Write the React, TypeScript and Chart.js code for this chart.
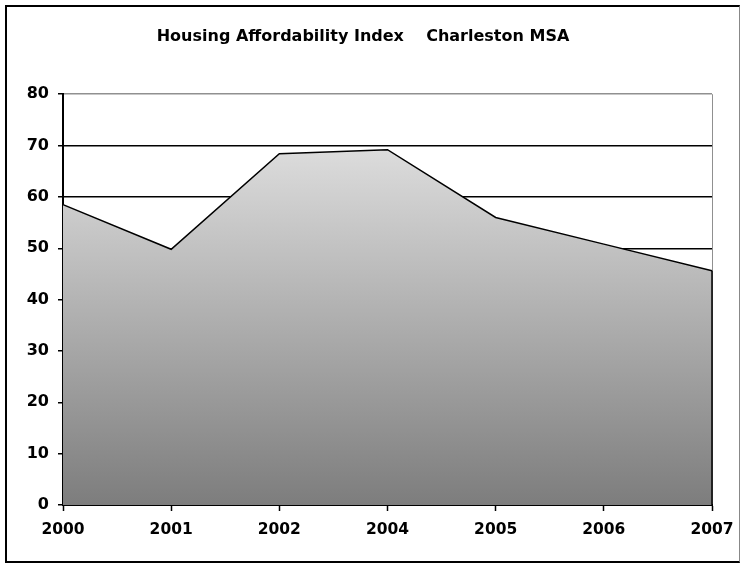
import React, { useEffect, useRef } from "react";
import { Chart, registerables } from "chart.js";

Chart.register(...registerables);

const titleText = "Housing Affordability Index    Charleston MSA";
const years = ["2000", "2001", "2002", "2004", "2005", "2006", "2007"];
const indexValues = [58.5, 49.8, 68.4, 69.2, 56.0, 50.8, 45.6];
const yMin = 0;
const yMax = 80;
const yStep = 10;

const FONT = "'DejaVu Sans', 'Liberation Sans', Arial, sans-serif";

const rightEdgePlugin = {
  id: "rightEdge",
  afterDatasetsDraw(chart: any) {
    const meta = chart.getDatasetMeta(0);
    const pts = meta.data;
    if (!pts || !pts.length) return;
    const last = pts[pts.length - 1];
    const { ctx, chartArea } = chart;
    ctx.save();
    ctx.strokeStyle = "#000";
    ctx.lineWidth = 1.5;
    ctx.beginPath();
    ctx.moveTo(last.x, last.y);
    ctx.lineTo(last.x, chartArea.bottom);
    ctx.stroke();
    ctx.restore();
  },
};

export default function App() {
  const ref = useRef<HTMLCanvasElement>(null);
  useEffect(() => {
    document.body.style.margin = "0";
    const canvas = ref.current!;
    const chart = new Chart(canvas, {
      type: "line",
      data: {
        labels: years,
        datasets: [
          {
            data: indexValues,
            borderColor: "#000",
            borderWidth: 1.5,
            pointRadius: 0,
            tension: 0,
            fill: "origin",
            backgroundColor: (c: any) => {
              const ch = c.chart;
              const area = ch.chartArea;
              if (!area) return "#bbbbbb";
              const ys = ch.scales.y;
              const top = ys.getPixelForValue(Math.max(...indexValues));
              const g = ch.ctx.createLinearGradient(0, top, 0, area.bottom);
              g.addColorStop(0, "#dcdcdc");
              g.addColorStop(1, "#7d7d7d");
              return g;
            },
          },
        ],
      },
      options: {
        responsive: false,
        animation: false,
        devicePixelRatio: 1,
        layout: { padding: { left: 14, right: 33, top: 27, bottom: 0 } },
        plugins: {
          legend: { display: false },
          tooltip: { enabled: false },
          title: {
            display: true,
            text: titleText,
            color: "#000",
            font: { family: FONT, size: 16, weight: "bold" },
            padding: { top: 0, bottom: 48 },
          },
        },
        scales: {
          x: {
            type: "category",
            offset: false,
            afterFit: (s: any) => {
              s.height = 58;
            },
            border: { display: true, color: "#000", width: 2 },
            grid: {
              display: true,
              drawOnChartArea: true,
              drawTicks: true,
              tickLength: 6,
              tickColor: "#000",
              tickWidth: 1.5,
              lineWidth: 1,
              color: (c: any) =>
                c.index === years.length - 1 ? "#909090" : "rgba(0,0,0,0)",
            },
            ticks: {
              color: "#000",
              font: { family: FONT, size: 15.5, weight: "bold" },
              padding: 10,
              maxRotation: 0,
              autoSkip: false,
            },
          },
          y: {
            min: yMin,
            max: yMax,
            afterFit: (s: any) => {
              s.width = 49;
            },
            border: { display: true, color: "#000", width: 2 },
            grid: {
              display: true,
              drawOnChartArea: true,
              drawTicks: true,
              tickLength: 5,
              tickColor: "#000",
              tickWidth: 1.5,
              lineWidth: 1.5,
              color: (c: any) => {
                const v = c.tick ? c.tick.value : null;
                if (v === yMax) return "#909090";
                if (v === yMin) return "rgba(0,0,0,0)";
                return "#000";
              },
            },
            ticks: {
              stepSize: yStep,
              color: "#000",
              font: { family: FONT, size: 16, weight: "bold" },
              padding: 9,
            },
          },
        },
      },
      plugins: [rightEdgePlugin],
    });
    return () => chart.destroy();
  }, []);

  return (
    <div style={{ position: "relative", width: 745, height: 563 }}>
      <canvas
        ref={ref}
        width={745}
        height={563}
        style={{ position: "absolute", left: 0, top: 0, width: 745, height: 563 }}
      />
      <div
        style={{
          position: "absolute",
          left: 5,
          top: 5,
          width: 735,
          height: 558,
          borderLeft: "2px solid #000",
          borderTop: "2px solid #000",
          borderBottom: "2px solid #000",
          borderRight: "1px solid #888",
          boxSizing: "border-box",
          pointerEvents: "none",
        }}
      />
    </div>
  );
}
